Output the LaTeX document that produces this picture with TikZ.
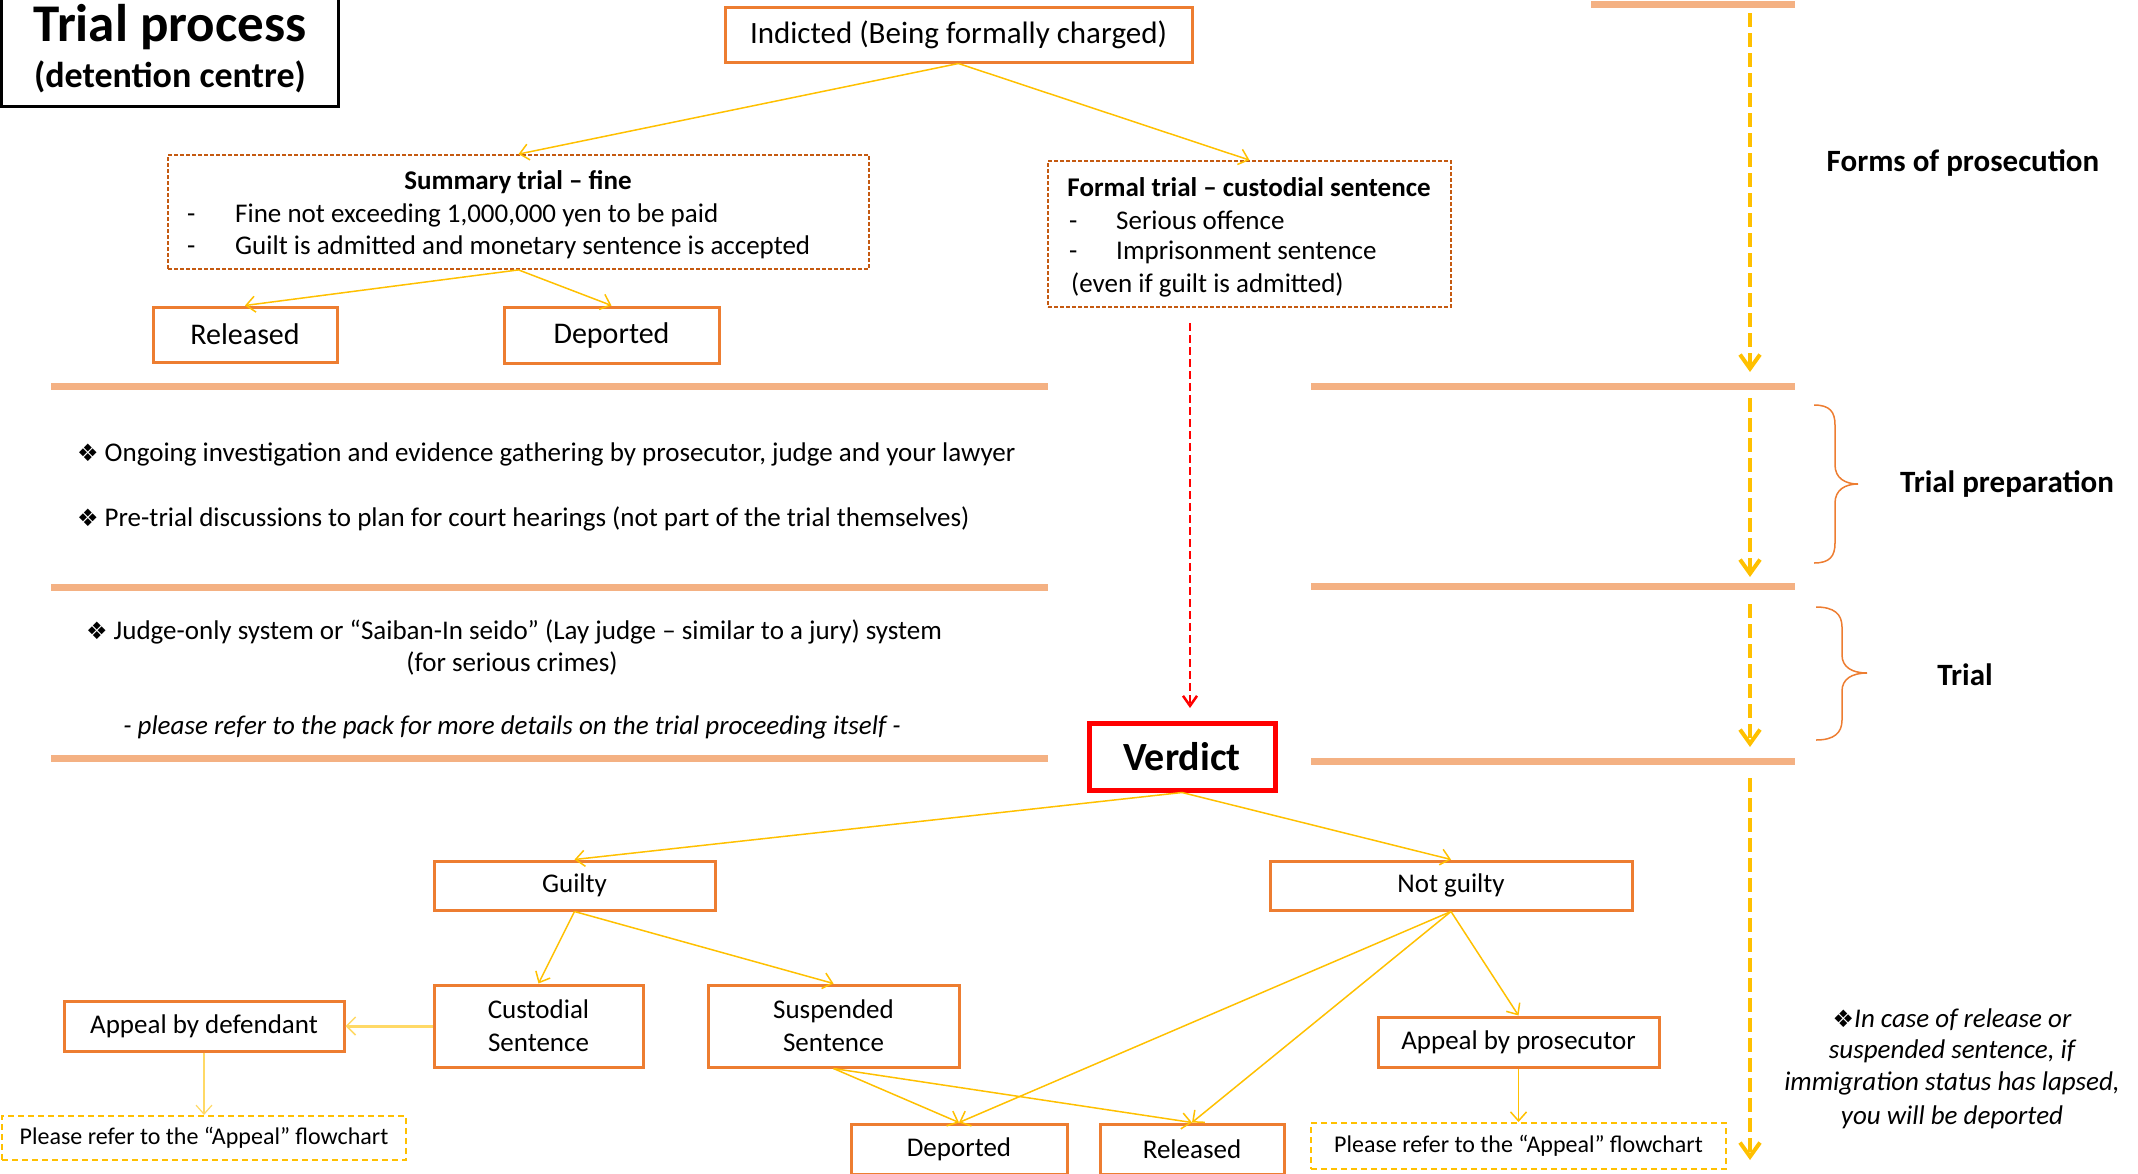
\documentclass[tikz,border=0pt]{standalone}
\usepackage{fontspec}
\setmainfont{Carlito}
\newfontfamily\dejavu{DejaVu Sans}
\usetikzlibrary{arrows.meta}
\definecolor{boxor}{HTML}{ED7D31}
\definecolor{darkor}{HTML}{C55A11}
\definecolor{connc}{HTML}{FFC000}
\definecolor{barc}{HTML}{F4B183}
\definecolor{lightyel}{HTML}{FFD966}
\definecolor{redc}{HTML}{FF0000}
\newcommand\bul{{\dejavu\fontsize{24}{24}\selectfont ❖}}
\begin{document}
\begin{tikzpicture}[x=1pt,y=-1pt,
  solidbox/.style={draw=boxor, line width=3pt, rectangle, inner sep=0pt, align=center, font=\fontsize{27}{33}\selectfont},
  dashbox/.style={draw=darkor, line width=1.8pt, dash pattern=on 4pt off 2pt, rectangle, inner sep=0pt},
  refbox/.style={draw=connc, line width=2pt, dash pattern=on 6pt off 4pt, rectangle, inner sep=0pt, font=\fontsize{24}{28}\selectfont},
  conn/.style={draw=connc, line width=1.5pt, -{Straight Barb[length=9pt,width=16pt]}},
  bar/.style={draw=barc, line width=7pt},
  tline/.style={draw=connc, line width=4pt, dash pattern=on 14pt off 6pt, -{Straight Barb[length=14pt,width=20pt,line width=4pt]}},
  brace/.style={draw=boxor, line width=1.5pt},
  body/.style={inner sep=0pt, font=\fontsize{27}{32}\selectfont},
  head/.style={inner sep=0pt, font=\bfseries\fontsize{31}{36}\selectfont},
  note/.style={inner sep=0pt, font=\itshape\fontsize{27}{32}\selectfont},
]
\useasboundingbox (0,0) rectangle (2138,1173);

% title
\node[draw=black, line width=3pt, minimum width=337pt, minimum height=110pt, inner sep=0pt] (title) at (170,51) {};
\node[inner sep=0pt, font=\bfseries\fontsize{53}{55}\selectfont] (titleA) at (170,27) {Trial process};
\node[inner sep=0pt, font=\bfseries\fontsize{36}{38}\selectfont] (titleB) at (170,77) {(detention centre)};

% top section
\node[solidbox, minimum width=467pt, minimum height=55pt, font=\fontsize{31}{36}\selectfont] (indicted) at (958.5,34.5) {Indicted (Being formally charged)};
\node[dashbox, minimum width=701pt, minimum height=114pt] (summary) at (518.5,212) {};
\node[dashbox, minimum width=403pt, minimum height=146pt] (formal) at (1249.5,234) {};
\node[solidbox, minimum width=184pt, minimum height=55pt, font=\fontsize{30}{34}\selectfont] (relA) at (245,334.5) {Released};
\node[solidbox, minimum width=215pt, minimum height=56pt, font=\fontsize{30}{34}\selectfont] (depA) at (611.5,335) {Deported};

\node[body, font=\bfseries\fontsize{27}{32}\selectfont] (sumT) at (518,182) {Summary trial – fine};
\node[body, anchor=mid west] (sumD1) at (187,220) {-};
\node[body, anchor=mid west] (sumL1) at (235,220) {Fine not exceeding 1,000,000 yen to be paid};
\node[body, anchor=mid west] (sumD2) at (187,252) {-};
\node[body, anchor=mid west] (sumL2) at (235,252) {Guilt is admitted and monetary sentence is accepted};

\node[body, font=\bfseries\fontsize{27}{32}\selectfont] (forT) at (1249,187) {Formal trial – custodial sentence};
\node[body, anchor=mid west] (forD1) at (1069,227) {-};
\node[body, anchor=mid west] (forL1) at (1116,227) {Serious offence};
\node[body, anchor=mid west] (forD2) at (1069,257) {-};
\node[body, anchor=mid west] (forL2) at (1116,257) {Imprisonment sentence};
\node[body, anchor=mid west] (forL3) at (1071,290) {(even if guilt is admitted)};

\draw[conn] (indicted.south) -- (summary.north);
\draw[conn] (indicted.south) -- (formal.north);
\draw[conn] (summary.south) -- (relA.north);
\draw[conn] (summary.south) -- (depA.north);

% bars
\draw[bar] (1591,4) -- (1795,4);
\draw[bar] (51,386) -- (1048,386);
\draw[bar] (1311,386) -- (1795,386);
\draw[bar] (51,587) -- (1048,587);
\draw[bar] (1311,586) -- (1795,586);
\draw[bar] (51,758) -- (1048,758);
\draw[bar] (1311,761) -- (1795,761);

% timeline
\coordinate (t1a) at (1750,13);  \coordinate (t1b) at (1750,372);
\coordinate (t2a) at (1750,398); \coordinate (t2b) at (1750,577);
\coordinate (t3a) at (1750,604); \coordinate (t3b) at (1750,747);
\coordinate (t4a) at (1750,778); \coordinate (t4b) at (1750,1160);
\draw[tline] (t1a) -- (t1b);
\draw[tline] (t2a) -- (t2b);
\draw[tline] (t3a) -- (t3b);
\draw[tline] (t4a) -- (t4b);

% braces
\draw[brace] (1814,405) .. controls (1830,405) and (1835,412) .. (1835,425) -- (1835,465) .. controls (1835,478) and (1845,484) .. (1858,484) .. controls (1845,484) and (1835,490) .. (1835,503) -- (1835,543) .. controls (1835,556) and (1830,563) .. (1814,563);
\draw[brace] (1816,607) .. controls (1834,607) and (1842,614) .. (1842,627) -- (1842,655) .. controls (1842,667) and (1852,673) .. (1867,673) .. controls (1852,673) and (1842,679) .. (1842,691) -- (1842,720) .. controls (1842,733) and (1834,740) .. (1816,740);

% side labels
\node[head] (forms) at (1963,163) {Forms of prosecution};
\node[head] (prep) at (2007,484) {Trial preparation};
\node[head] (trial) at (1965,675) {Trial};

% middle texts
\node[body, anchor=mid west] (ong) at (77,459) {\bul\hspace{6pt}Ongoing investigation and evidence gathering by prosecutor, judge and your lawyer};
\node[body, anchor=mid west] (pre) at (77,524) {\bul\hspace{6pt}Pre-trial discussions to plan for court hearings (not part of the trial themselves)};
\node[body, anchor=mid west] (judge) at (86,637) {\bul\hspace{6pt}Judge-only system or “Saiban-In seido” (Lay judge – similar to a jury) system};
\node[body] (serious) at (512,663) {(for serious crimes)};
\node[note] (pack) at (512,727) {- please refer to the pack for more details on the trial proceeding itself -};

% verdict
\coordinate (rs) at (1190,323);
\coordinate (re) at (1190,708);
\draw[draw=redc, line width=2.5pt, dash pattern=on 8pt off 4pt, -{Straight Barb[length=10pt,width=14pt]}] (rs) -- (re);
\node[draw=redc, line width=5pt, minimum width=186pt, minimum height=67pt, inner sep=0pt, font=\bfseries\fontsize{40}{44}\selectfont] (verdict) at (1182,756.5) {Verdict};

% lower tree
\node[solidbox, minimum width=281pt, minimum height=49pt] (guilty) at (574.5,885.5) {Guilty};
\node[solidbox, minimum width=362pt, minimum height=49pt] (notguilty) at (1451,885.5) {Not guilty};
\node[solidbox, minimum width=209pt, minimum height=82pt] (cust) at (538.5,1026) {Custodial\\Sentence};
\node[solidbox, minimum width=251pt, minimum height=82pt] (susp) at (833.5,1026) {Suspended\\Sentence};
\node[solidbox, minimum width=280pt, minimum height=50pt] (appdef) at (204,1026) {Appeal by defendant};
\node[solidbox, minimum width=281pt, minimum height=50pt] (appros) at (1518.5,1042) {Appeal by prosecutor};
\node[solidbox, minimum width=216pt, minimum height=50pt] (depB) at (959,1149) {Deported};
\node[solidbox, minimum width=184pt, minimum height=50pt] (relB) at (1192,1149) {Released};
\node[refbox, minimum width=404pt, minimum height=44pt] (ref1) at (204,1138) {Please refer to the “Appeal” flowchart};
\node[refbox, minimum width=415pt, minimum height=46pt] (ref2) at (1518.5,1146) {Please refer to the “Appeal” flowchart};

\draw[conn] (verdict.south) -- (guilty.north);
\draw[conn] (verdict.south) -- (notguilty.north);
\draw[conn] (guilty.south) -- (cust.north);
\draw[conn] (guilty.south) -- (susp.north);
\draw[conn] (susp.south) -- (depB.north);
\draw[conn] (susp.south) -- (relB.north);
\draw[conn] (notguilty.south) -- (depB.north);
\draw[conn] (notguilty.south) -- (relB.north);
\draw[conn] (notguilty.south) -- (appros.north);
\draw[conn] (appros.south) -- (ref2.north);
\draw[draw=lightyel, line width=3pt, -{Straight Barb[length=9pt,width=18pt,line width=1.5pt]}] (cust.west) -- (appdef.east);
\draw[draw=lightyel, line width=1.2pt, -{Straight Barb[length=9pt,width=16pt]}] (appdef.south) -- (ref1.north);

% note
\node[note] (n1) at (1952,1020) {\bul In case of release or};
\node[note] (n2) at (1952,1051) {suspended sentence, if};
\node[note] (n3) at (1952,1083) {immigration status has lapsed,};
\node[note] (n4) at (1952,1117) {you will be deported};
\end{tikzpicture}
\end{document}
